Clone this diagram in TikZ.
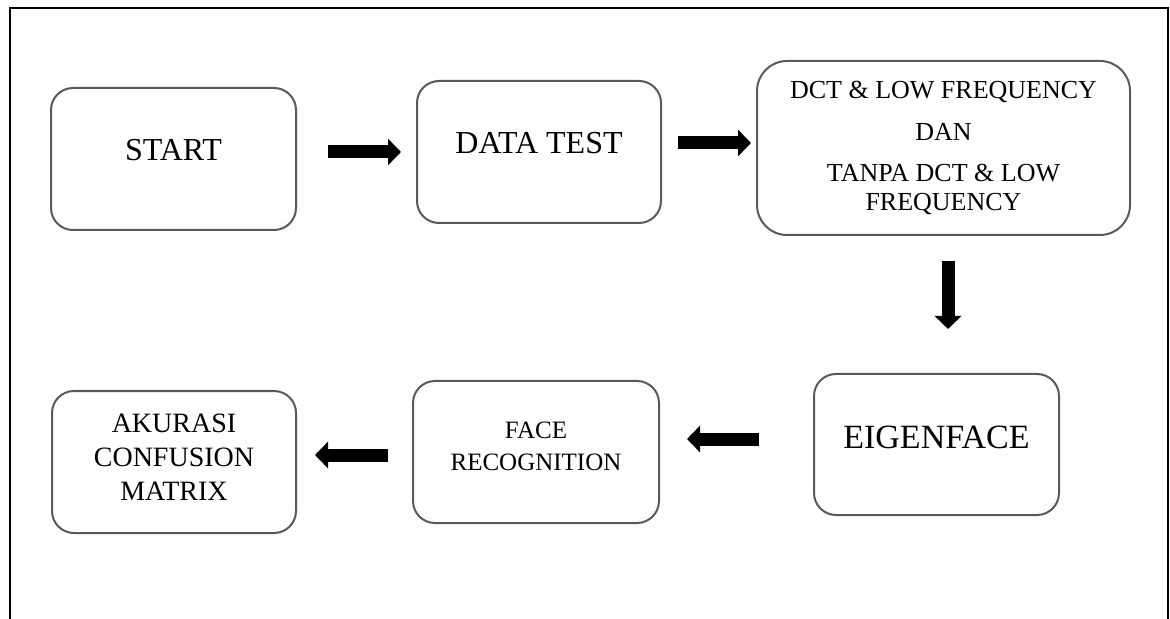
\documentclass[tikz,border=0pt]{standalone}
\usepackage{fontspec}
\setmainfont{Liberation Serif}
\usetikzlibrary{arrows.meta}

\begin{document}
\begin{tikzpicture}[x=0.5pt, y=-0.5pt,
    box/.style={rectangle, rounded corners=11pt, draw=black!65, line width=1pt, align=center,
      minimum width=122.5pt, minimum height=71pt, inner sep=2pt},
    blk/.style={line width=6.5pt, -{Triangle[length=6.5pt, width=13pt]}}]
  \useasboundingbox (0,0) rectangle (1170,619);
  \draw[line width=0.8pt] (10,619) -- (10,8) -- (1168,8) -- (1168,619);

  \node[box, font=\fontsize{16}{19}\selectfont, text depth=9pt] (start) at (173.5,159) {START};
  \node[box, font=\fontsize{16}{19}\selectfont, text depth=9pt, minimum width=122pt] (test) at (539,152) {DATA TEST};
  \node[box, font=\fontsize{13}{14.5}\selectfont, rounded corners=15pt, minimum width=186.5pt, minimum height=87pt] (dct) at (943.5,148)
    {DCT \& LOW FREQUENCY\\[6.5pt] DAN\\[6pt] TANPA DCT \& LOW\\ FREQUENCY};
  \node[box, font=\fontsize{17}{20}\selectfont, text depth=7.5pt, minimum height=70.5pt] (eigen) at (936.5,444.5) {EIGENFACE};
  \node[box, font=\fontsize{12.5}{16}\selectfont, text depth=6pt, minimum width=123pt] (face) at (536,452) {FACE\\ RECOGNITION};
  \node[box, font=\fontsize{14}{17}\selectfont, text depth=5pt, minimum width=122pt] (akurasi) at (174,462) {AKURASI\\ CONFUSION\\ MATRIX};

  \draw[blk, shorten <=15.5pt, shorten >=7.5pt] (start.east |- test.west) -- (test.west);
  \draw[blk, shorten <=8pt, shorten >=2.5pt] ([yshift=4.5pt]test.east) -- ([yshift=4.5pt]test.east -| dct.west);
  \draw[blk, shorten <=12.5pt, shorten >=22pt] ([xshift=2.25pt]dct.south) -- ([xshift=2.25pt]dct.south |- eigen.north);
  \draw[blk, shorten <=27pt, shorten >=13.5pt] ([yshift=2.75pt]eigen.west) -- ([yshift=2.75pt]eigen.west -| face.east);
  \draw[blk, shorten <=12pt, shorten >=9pt] ([yshift=-1.5pt]face.west) -- ([yshift=-1.5pt]face.west -| akurasi.east);
\end{tikzpicture}
\end{document}
